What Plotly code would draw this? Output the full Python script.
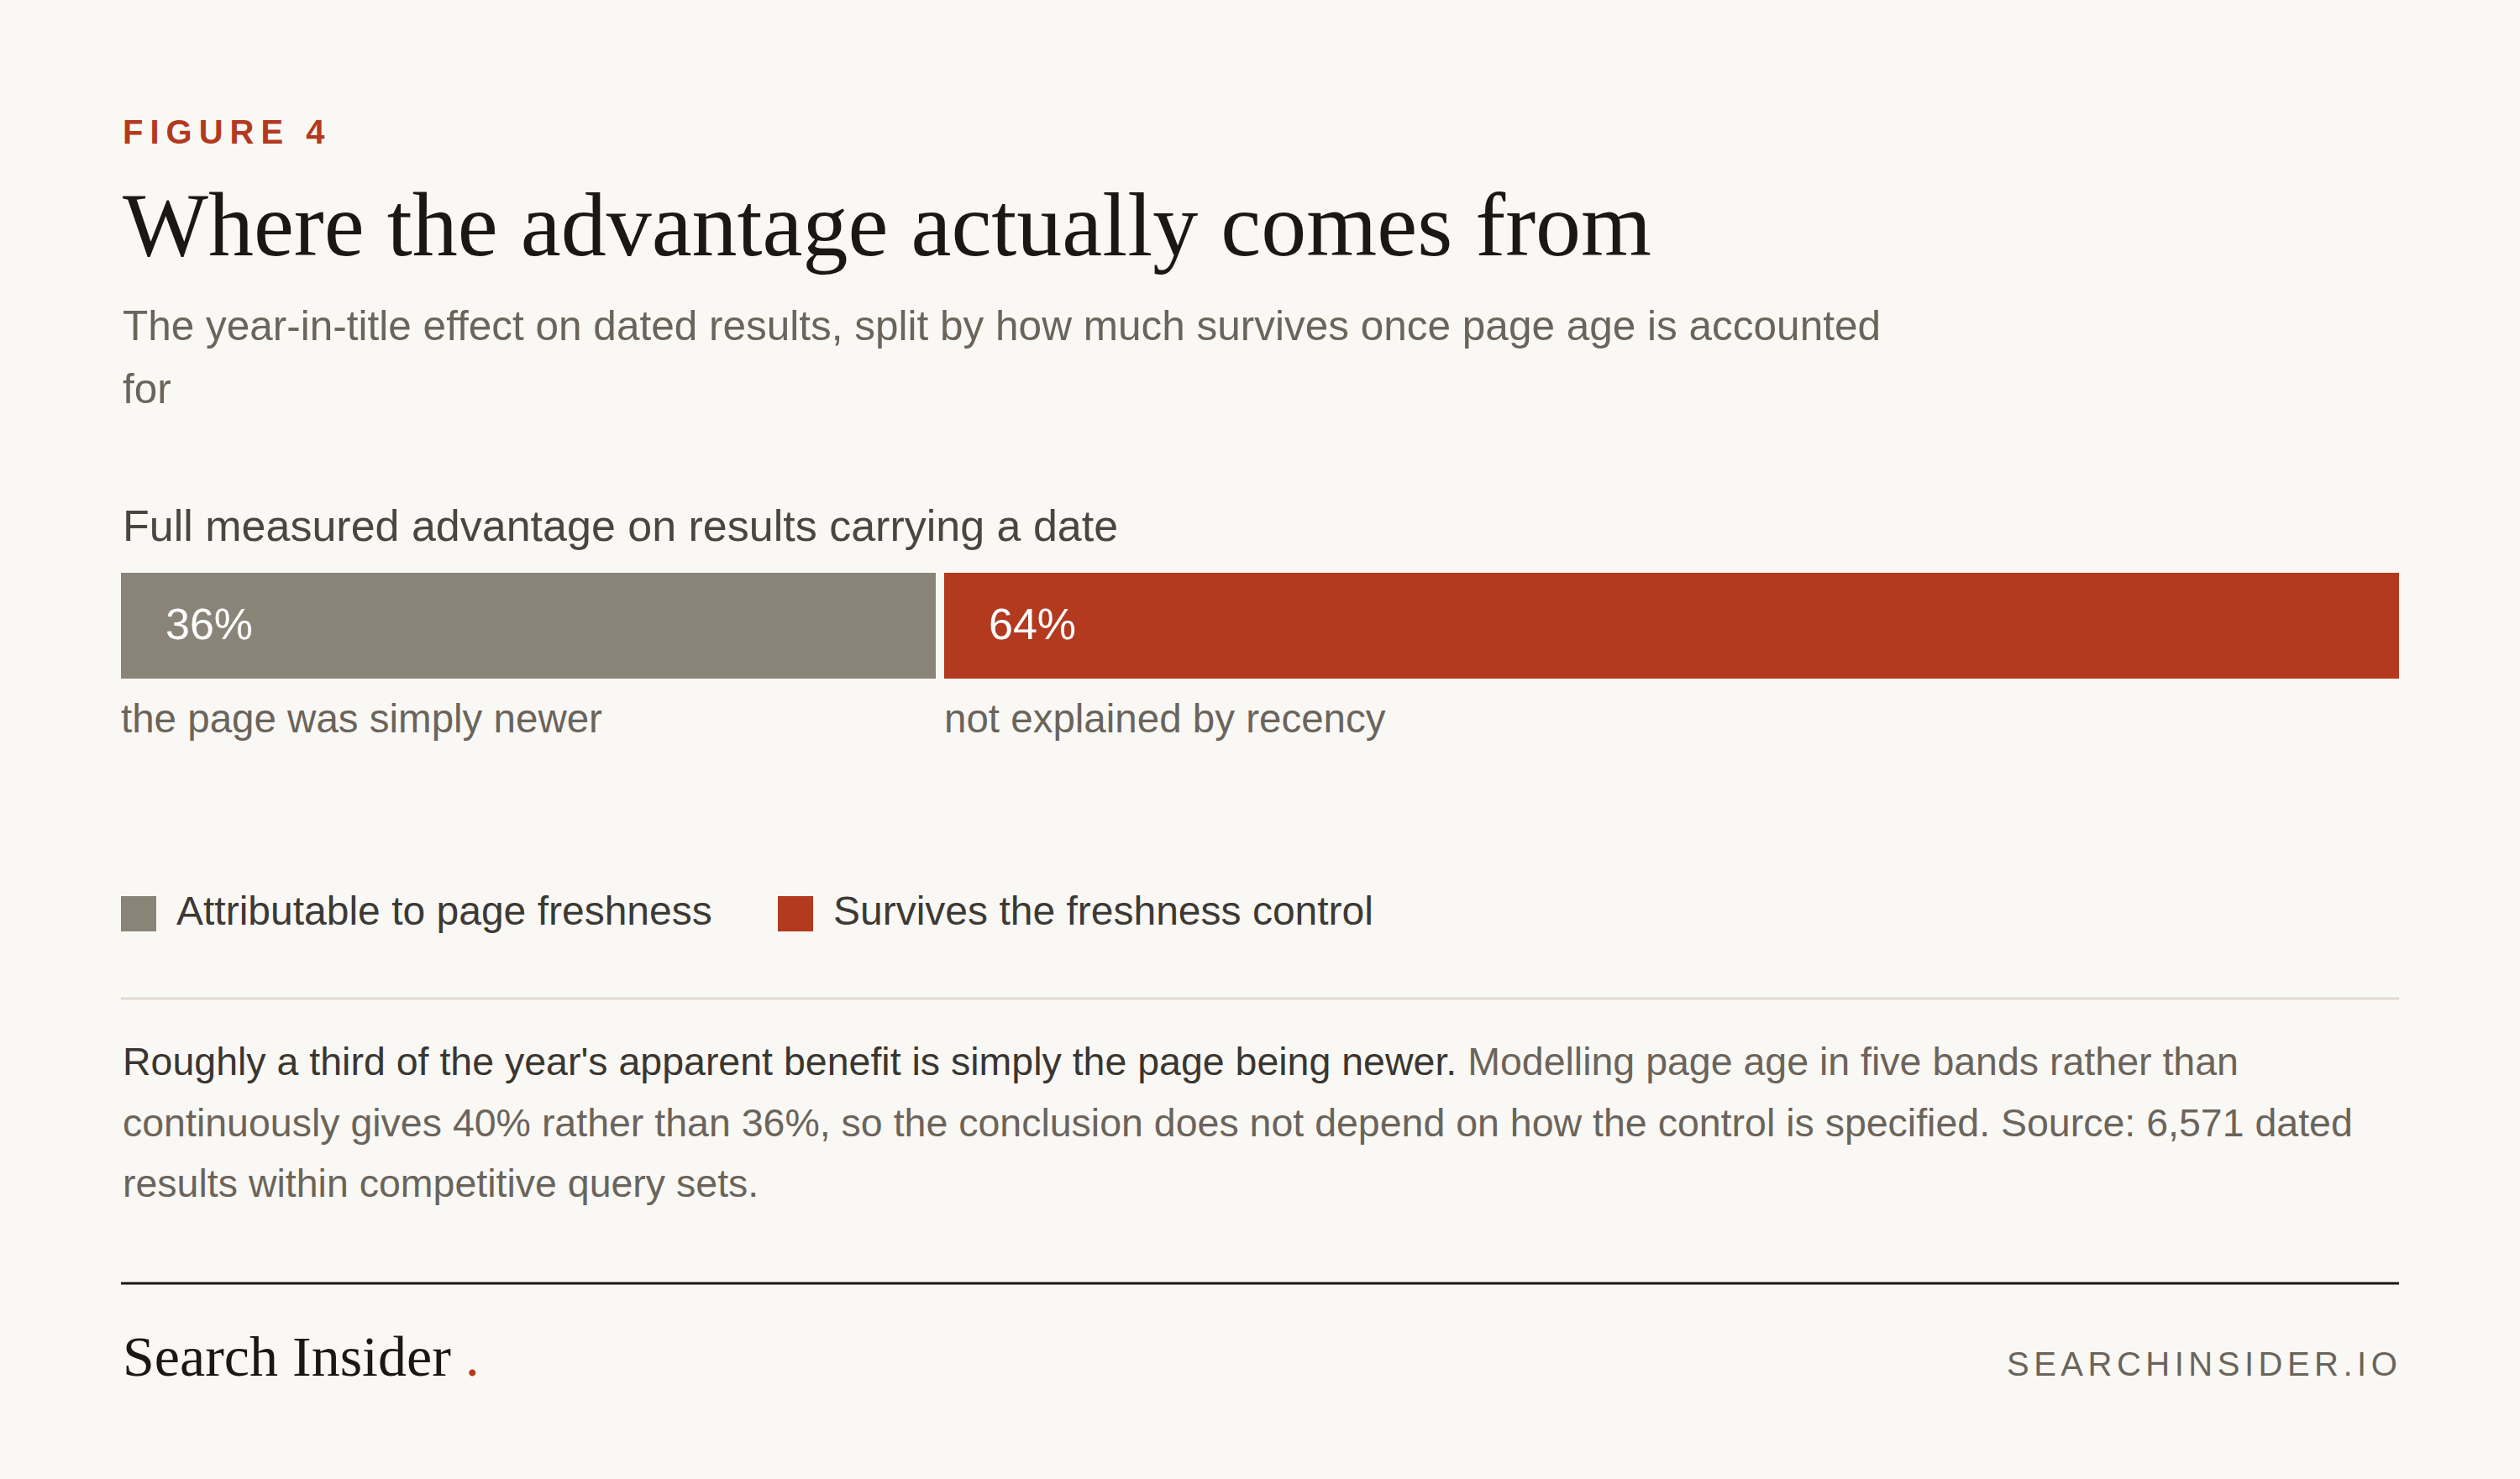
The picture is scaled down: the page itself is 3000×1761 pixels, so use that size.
import plotly.graph_objects as go

# ---------------- data ----------------
segments = ["Attributable to page freshness", "Survives the freshness control"]
shares = [36, 64]
bar_labels = ["36%", "64%"]
under_labels = ["the page was simply newer", "not explained by recency"]
bar_category = ["Full measured advantage on results carrying a date"]
colors = ["#8a8478", "#b3391f"]

# ---------------- styling ----------------
W, H = 3000, 1761
BG = "#faf8f4"
SANS = "Liberation Sans, Arial, Helvetica, sans-serif"
SERIF = "Liberation Serif, Times New Roman, serif"
GREY = "#6b645b"
DARK = "#1a1814"


def px(x):
    return x / W


def py(y):
    return 1 - y / H


GAP = 10  # visual gap between the two segments (drawn as bar outline in bg colour)
half = GAP / 2
bar_left, bar_right = 144, 2856
bar_top, bar_bottom = 682, 808

fig = go.Figure()
for name, val, col in zip(segments, shares, colors):
    fig.add_trace(go.Bar(
        x=[val], y=bar_category, orientation="h", name=name,
        marker=dict(color=col, line=dict(color=BG, width=GAP)),
        width=1, showlegend=False, hoverinfo="skip",
    ))

bases = [sum(shares[:i]) for i in range(len(shares))]

annotations = []

def add_text(text, x, y, size, color, family=SANS, xanchor="left", xref="paper", xshift=0):
    annotations.append(dict(
        text=text, x=x if xref != "paper" else px(x), y=py(y), xref=xref, yref="paper",
        xanchor=xanchor, yanchor="middle", showarrow=False, xshift=xshift,
        font=dict(family=family, size=size, color=color), align="left",
    ))

# header
add_text("<b><span style='letter-spacing:8px'>FIGURE 4</span></b>", 144, 157, 40, "#b3391f")
add_text("Where the advantage actually comes from", 144, 267, 108, DARK, family=SERIF)
add_text("The year-in-title effect on dated results, split by how much survives once page age is accounted",
         144, 388, 49.5, GREY)
add_text("for", 144, 463, 49.5, GREY)

# section label
add_text(bar_category[0], 144, 626, 52, "#4a453f")

# labels inside / under bars, positioned via the data axis
for b, lab, ul in zip(bases, bar_labels, under_labels):
    add_text(lab, b, 743, 52, "#ffffff", xref="x", xshift=half + 51)
    add_text(ul, b, 856, 47.5, GREY, xref="x", xshift=half - 2)

# legend (swatches + text)
shapes = []
legend_x = [144, 926]
for lx, name, col in zip(legend_x, segments, colors):
    shapes.append(dict(type="rect", xref="paper", yref="paper",
                       x0=px(lx), x1=px(lx + 42), y0=py(1109), y1=py(1067),
                       fillcolor=col, line=dict(width=0)))
    add_text(name, lx + 64, 1084, 48, "#3d3934")

# divider
shapes.append(dict(type="line", xref="paper", yref="paper",
                   x0=px(144), x1=px(2856), y0=py(1189), y1=py(1189),
                   line=dict(color="#e2dbd0", width=3)))

# note
note_lines = [
    "<span style='color:#3a3631'>Roughly a third of the year's apparent benefit is simply the page being newer.</span>"
    " Modelling page age in five bands rather than",
    "continuously gives 40% rather than 36%, so the conclusion does not depend on how the control is specified. Source: 6,571 dated",
    "results within competitive query sets.",
]
for ln, yy in zip(note_lines, [1264, 1337, 1409]):
    add_text(ln, 144, yy, 46.5, GREY)

# footer
shapes.append(dict(type="line", xref="paper", yref="paper",
                   x0=px(144), x1=px(2856), y0=py(1528), y1=py(1528),
                   line=dict(color=DARK, width=3)))
add_text("Search Insider <span style='color:#b3391f'>.</span>", 144, 1615, 68, DARK, family=SERIF)
add_text("<span style='letter-spacing:5.5px'>SEARCHINSIDER.IO</span>", 2861, 1624, 40, GREY, xanchor="right")

fig.update_layout(
    width=W, height=H,
    paper_bgcolor=BG, plot_bgcolor=BG,
    margin=dict(l=0, r=0, t=0, b=0),
    barmode="stack", bargap=0,
    xaxis=dict(domain=[px(bar_left - half), px(bar_right + half)], range=[0, sum(shares)],
               visible=False, fixedrange=True),
    yaxis=dict(domain=[py(bar_bottom + half), py(bar_top - half)], range=[-0.5, 0.5],
               visible=False, fixedrange=True),
    annotations=annotations, shapes=shapes, showlegend=False,
)

fig.write_html(
    "out.html",
    config={"displayModeBar": False},
    post_script="document.body.style.margin='0';document.body.style.background='%s';" % BG,
)
